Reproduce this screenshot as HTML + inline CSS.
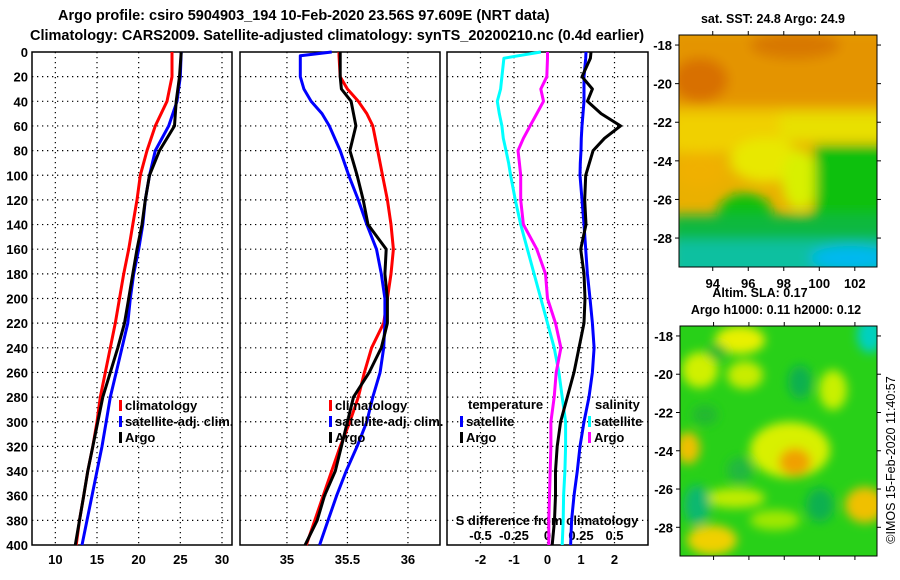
<!DOCTYPE html>
<html><head><meta charset="utf-8"><style>
body{margin:0;background:#fff;}
svg{display:block;font-family:"Liberation Sans",sans-serif;font-weight:bold;}
</style></head><body>
<svg id="c" width="900" height="580" viewBox="0 0 900 580">
<defs>
<filter id="b1" x="-20%" y="-20%" width="140%" height="140%"><feGaussianBlur stdDeviation="6"/></filter>
<filter id="b2" x="-20%" y="-20%" width="140%" height="140%"><feGaussianBlur stdDeviation="5"/></filter>
<clipPath id="cm1"><rect x="679" y="35" width="198" height="232"/></clipPath>
<clipPath id="cm2"><rect x="680" y="326" width="197" height="230"/></clipPath>
</defs>
<text x="58" y="20" font-size="14.5">Argo profile: csiro 5904903_194 10-Feb-2020 23.56S 97.609E (NRT data)</text>
<text x="30" y="40" font-size="14.5">Climatology: CARS2009. Satellite-adjusted climatology: synTS_20200210.nc (0.4d earlier)</text>

<g id="panels"></g>

<!-- SST map -->
<g clip-path="url(#cm1)">
<rect x="679" y="35" width="198" height="232" fill="#eab000"/>
<g filter="url(#b1)">
<rect x="670" y="30" width="220" height="75" fill="#e49400"/>
<ellipse cx="700" cy="80" rx="28" ry="22" fill="#d87000"/>
<ellipse cx="795" cy="45" rx="45" ry="14" fill="#d87800"/>
<rect x="750" y="112" width="140" height="30" fill="#e8e000"/>
<rect x="670" y="112" width="110" height="40" fill="#f0d000"/>
<ellipse cx="700" cy="170" rx="25" ry="18" fill="#f0b000"/>
<ellipse cx="765" cy="160" rx="35" ry="22" fill="#e8e800"/>
<ellipse cx="800" cy="180" rx="18" ry="30" fill="#d8f000"/>
<rect x="815" y="145" width="80" height="70" fill="#10c010"/>
<ellipse cx="745" cy="215" rx="28" ry="22" fill="#10c010"/>
<rect x="670" y="215" width="220" height="30" fill="#10b840"/>
<rect x="670" y="240" width="220" height="40" fill="#10c0a0"/>
<ellipse cx="850" cy="258" rx="40" ry="12" fill="#00b8f0"/>
</g>
</g>
<rect x="679" y="35" width="198" height="232" fill="none" stroke="#000"/>
<text x="773" y="23" font-size="12.5" text-anchor="middle">sat. SST: 24.8 Argo: 24.9</text>
<g id="m1ax" font-size="13"></g>
<text x="760" y="297" font-size="12.5" text-anchor="middle">Altim. SLA: 0.17</text>
<text x="776" y="314" font-size="12.5" text-anchor="middle">Argo h1000: 0.11 h2000: 0.12</text>

<!-- SLA map -->
<g clip-path="url(#cm2)">
<rect x="680" y="326" width="197" height="230" fill="#28d018"/>
<g filter="url(#b2)">
<ellipse cx="740" cy="340" rx="25" ry="14" fill="#e8f000"/>
<ellipse cx="700" cy="370" rx="18" ry="18" fill="#d0f000"/>
<ellipse cx="745" cy="375" rx="18" ry="14" fill="#c8ec00"/>
<ellipse cx="833" cy="390" rx="14" ry="20" fill="#c8f000"/>
<ellipse cx="688" cy="448" rx="12" ry="16" fill="#f0c000"/>
<ellipse cx="790" cy="450" rx="40" ry="28" fill="#d8f000"/>
<ellipse cx="795" cy="462" rx="16" ry="14" fill="#f0a000"/>
<ellipse cx="735" cy="498" rx="30" ry="10" fill="#c0ec00"/>
<ellipse cx="712" cy="540" rx="25" ry="15" fill="#f0d000"/>
<ellipse cx="865" cy="505" rx="20" ry="18" fill="#f0c000"/>
<ellipse cx="775" cy="520" rx="25" ry="10" fill="#a0e800"/>
<ellipse cx="870" cy="335" rx="13" ry="18" fill="#00d0c0"/>
<ellipse cx="697" cy="505" rx="13" ry="20" fill="#10b870"/>
<ellipse cx="820" cy="505" rx="14" ry="17" fill="#10b050"/>
<ellipse cx="800" cy="382" rx="12" ry="17" fill="#10b050"/>
<ellipse cx="717" cy="352" rx="10" ry="8" fill="#20b830"/>
<ellipse cx="705" cy="415" rx="13" ry="10" fill="#20b830"/>
<ellipse cx="740" cy="470" rx="13" ry="13" fill="#20b840"/>
</g>
</g>
<rect x="680" y="326" width="197" height="230" fill="none" stroke="#000"/>
<g id="m2ax" font-size="13"></g>
<text transform="translate(895,460) rotate(-90)" font-size="12.5" font-weight="normal" text-anchor="middle">©IMOS 15-Feb-2020 11:40:57</text>
</svg>
<script>
const depths=[0,20,40,60,80,100,120,140,160,180,200,220,240,260,280,300,320,340,360,380,400];
const tClim=[24.0,24.0,23.4,22.0,21.0,20.2,19.8,19.3,18.8,18.2,17.7,17.2,16.6,16.0,15.4,15.0,14.5,13.9,13.4,12.9,12.5];
const tSat=[25.1,25.0,24.6,23.6,22.0,21.3,20.8,20.5,20.0,19.4,19.0,18.7,18.0,17.3,16.6,16.1,15.6,15.0,14.4,13.8,13.2];
const tArgo=[25.1,24.9,24.5,24.3,22.5,21.3,20.8,20.4,19.8,19.3,18.8,18.3,17.5,16.6,15.7,15.1,14.5,13.9,13.4,12.9,12.4];
const sDepths=[0,3,20,30,40,50,60,80,100,120,140,160,180,200,220,240,260,280,300,320,340,360,380,400];
const sClim=[35.43,35.43,35.44,35.50,35.59,35.66,35.71,35.75,35.79,35.83,35.86,35.88,35.86,35.83,35.80,35.70,35.64,35.59,35.52,35.44,35.37,35.30,35.23,35.16];
const sSat=[35.37,35.11,35.11,35.14,35.20,35.29,35.35,35.44,35.51,35.59,35.66,35.74,35.78,35.81,35.81,35.80,35.77,35.71,35.66,35.58,35.49,35.41,35.34,35.27];
const sArgo=[35.44,35.44,35.44,35.45,35.53,35.55,35.57,35.52,35.58,35.63,35.67,35.82,35.81,35.83,35.83,35.78,35.68,35.55,35.50,35.45,35.40,35.31,35.25,35.15];
const dDepths=[0,5,20,30,40,50,60,70,80,90,100,120,140,160,180,200,220,240,260,280,300,320,340,360,380,400];
const dTempSat=[1.15,1.14,1.09,1.09,1.09,1.06,1.03,1.01,1.0,0.98,0.97,1.03,1.09,1.14,1.19,1.27,1.34,1.39,1.34,1.24,1.09,0.97,0.89,0.79,0.72,0.69];
const dTempArgo=[1.3,1.28,1.03,1.34,1.19,1.6,2.18,1.7,1.36,1.25,1.14,1.11,1.15,0.99,1.09,1.12,1.09,0.94,0.79,0.59,0.39,0.29,0.24,0.24,0.21,0.14];
const dSalSat=[-0.05,-0.325,-0.34,-0.35,-0.375,-0.36,-0.34,-0.33,-0.31,-0.29,-0.275,-0.24,-0.2,-0.15,-0.1,-0.05,0.0,0.05,0.085,0.11,0.135,0.135,0.13,0.12,0.117,0.11];
const dSalArgo=[0.0,0.0,-0.005,-0.05,-0.03,-0.08,-0.13,-0.18,-0.22,-0.21,-0.2,-0.2,-0.18,-0.08,-0.015,0.0,0.06,0.1,0.065,0.05,0.025,0.025,0.02,0.015,0.01,0.01];
const tTicks=[10,15,20,25,30];
const sTicks=[35,35.5,36];
const dTicks=[-2,-1,0,1,2];
const dSTickLabels=["-0.5","-0.25","0","0.25","0.5"];
const depthTicks=[0,20,40,60,80,100,120,140,160,180,200,220,240,260,280,300,320,340,360,380,400];
const latTicks=[-18,-20,-22,-24,-26,-28];
const lonTicks=[94,96,98,100,102];

const NS='http://www.w3.org/2000/svg';
const root=document.getElementById('panels');
function mk(tag,attrs,parent){const e=document.createElementNS(NS,tag);for(const k in attrs)e.setAttribute(k,attrs[k]);(parent||root).appendChild(e);return e;}
const Y0=52,YS=493/400;
const yOf=d=>Y0+d*YS;
const panels=[
 {x0:32,x1:232,min:7.2,max:31.2},
 {x0:240,x1:440,min:34.612,max:36.265},
 {x0:447,x1:648,min:-3.0,max:3.0}
];
function xf(p){return v=>p.x0+(v-p.min)/(p.max-p.min)*(p.x1-p.x0);}
const xs=panels.map(xf);
function grid(p,ticks,x){
 depthTicks.forEach(d=>{if(d>0&&d<400){const l=mk('line',{x1:p.x0,x2:p.x1,y1:yOf(d),y2:yOf(d),stroke:'#000','stroke-dasharray':'1.3 3.7','stroke-width':1.2});
 }});
 ticks.forEach(t=>{const l=mk('line',{x1:x(t),x2:x(t),y1:Y0,y2:yOf(400),stroke:'#000','stroke-dasharray':'1.3 3.7','stroke-width':1.2});
 });
 const r=mk('rect',{x:p.x0,y:Y0,width:p.x1-p.x0,height:yOf(400)-Y0,fill:'none',stroke:'#000','stroke-width':1.5});
 
}
function line(ds,vals,x,color,name,scale){
 const pts=ds.map((d,i)=>x(vals[i]*(scale||1)).toFixed(1)+','+yOf(d).toFixed(1)).join(' ');
 const l=mk('polyline',{points:pts,fill:'none',stroke:color,'stroke-width':3,'stroke-linejoin':'round'});
 
 
}
function txt(x,y,s,anchor,name,size){const t=mk('text',{x:x,y:y,'font-size':size||13,'text-anchor':anchor||'start'});t.textContent=s;
 return t;}
function legend(x,y,color,label){mk('rect',{x:x,y:y-10,width:3,height:11,fill:color});txt(x+6,y,label,'start','legend-entry');}

grid(panels[0],tTicks,xs[0]);grid(panels[1],sTicks,xs[1]);grid(panels[2],dTicks,xs[2]);
depthTicks.forEach(d=>txt(28,yOf(d)+5,String(d),'end','depth-tick-label'));
tTicks.forEach(t=>txt(xs[0](t),564,String(t),'middle','temp-tick-label'));
sTicks.forEach(t=>txt(xs[1](t),564,String(t),'middle','sal-tick-label'));
dTicks.forEach(t=>txt(xs[2](t),564,String(t),'middle','tdiff-tick-label'));
dTicks.forEach((t,i)=>txt(xs[2](t),540,dSTickLabels[i],'middle','sdiff-tick-label'));
txt(547,525,'S difference from climatology','middle','sdiff-axis-title');

line(depths,tClim,xs[0],'#f00','temp-climatology-line');
line(depths,tSat,xs[0],'#00f','temp-satellite-line');
line(depths,tArgo,xs[0],'#000','temp-argo-line');
line(sDepths,sClim,xs[1],'#f00','sal-climatology-line');
line(sDepths,sSat,xs[1],'#00f','sal-satellite-line');
line(sDepths,sArgo,xs[1],'#000','sal-argo-line');
line(dDepths,dSalSat,xs[2],'#0ff','sdiff-satellite-line',4);
line(dDepths,dSalArgo,xs[2],'#f0f','sdiff-argo-line',4);
line(dDepths,dTempSat,xs[2],'#00f','tdiff-satellite-line');
line(dDepths,dTempArgo,xs[2],'#000','tdiff-argo-line');

legend(119,410,'#f00','climatology');legend(119,426,'#00f','satellite-adj. clim.');legend(119,442,'#000','Argo');
legend(329,410,'#f00','climatology');legend(329,426,'#00f','satellite-adj. clim.');legend(329,442,'#000','Argo');
txt(468,409,'temperature','start','legend-title-temperature');
legend(460,426,'#00f','satellite');legend(460,442,'#000','Argo');
txt(595,409,'salinity','start','legend-title-salinity');
legend(588,426,'#0ff','satellite');legend(588,442,'#f0f','Argo');

function mapAxes(gid,bx0,bx1,by0,by1,latTop,latBot,lonL,lonR,showLon){
 const g=document.getElementById(gid);
 const yl=v=>by0+(v-latTop)/(latBot-latTop)*(by1-by0);
 const xl=v=>bx0+(v-lonL)/(lonR-lonL)*(bx1-bx0);
 latTicks.forEach(v=>{const t=document.createElementNS(NS,'text');t.setAttribute('x',bx0-7);t.setAttribute('y',yl(v)+5);t.setAttribute('text-anchor','end');t.textContent=String(v);
  
  g.appendChild(t);
  [[bx0-4,bx0],[bx1,bx1+4]].forEach(a=>{const l=document.createElementNS(NS,'line');l.setAttribute('x1',a[0]);l.setAttribute('x2',a[1]);l.setAttribute('y1',yl(v));l.setAttribute('y2',yl(v));l.setAttribute('stroke','#000');g.appendChild(l);});});
 lonTicks.forEach(v=>{
  [[by0-4,by0],[by1,by1+4]].forEach(a=>{const l=document.createElementNS(NS,'line');l.setAttribute('x1',xl(v));l.setAttribute('x2',xl(v));l.setAttribute('y1',a[0]);l.setAttribute('y2',a[1]);l.setAttribute('stroke','#000');g.appendChild(l);});
  if(showLon){const t=document.createElementNS(NS,'text');t.setAttribute('x',xl(v));t.setAttribute('y',by1+21);t.setAttribute('text-anchor','middle');t.textContent=String(v);
  
  g.appendChild(t);}});
}
mapAxes('m1ax',679,877,35,267,-17.48,-29.5,92.1,103.25,true);
mapAxes('m2ax',680,877,326,556,-17.48,-29.5,92.1,103.25,false);
</script>
</body></html>
